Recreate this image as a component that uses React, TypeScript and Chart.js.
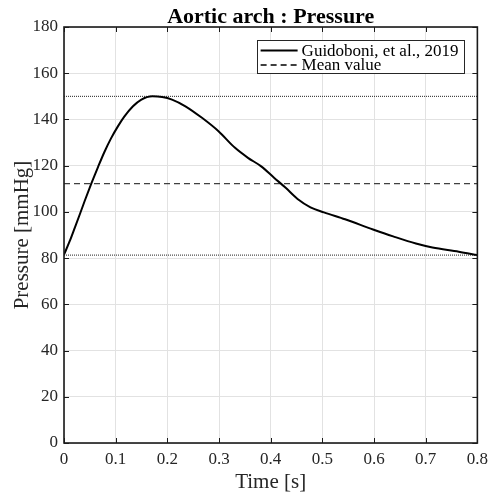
import React, { useEffect, useRef } from "react";
import { Chart, registerables } from "chart.js";

Chart.register(...registerables);

// ---- data ----
const timeS = [
  0, 0.011, 0.021, 0.031, 0.04, 0.053, 0.066, 0.078, 0.091, 0.104, 0.117, 0.133,
  0.149, 0.171, 0.19, 0.209, 0.235, 0.267, 0.299, 0.331, 0.356, 0.381, 0.407,
  0.429, 0.452, 0.477, 0.503, 0.544, 0.598, 0.637, 0.681, 0.713, 0.764, 0.8,
];
const pressure = [
  81.5, 87.3, 93.2, 99.2, 104.7, 112.3, 119.5, 125.8, 131.8, 136.9, 141.3, 145.6,
  148.5, 150, 149.7, 148.6, 145.7, 140.7, 134.9, 127.7, 123.4, 119.8, 114.7,
  110.4, 105.6, 102.0, 99.8, 96.8, 92.4, 89.4, 86.3, 84.6, 82.8, 81.3,
];
const meanValue = 112.2;
const maxValue = 150;
const minValue = 81.3;
const xRange = [0, 0.8];
const yRange = [0, 180];
const xStep = 0.1;
const yStep = 20;
const legendLabels = ["Guidoboni, et al., 2019", "Mean value"];
const titleText = "Aortic arch : Pressure";
const xTitle = "Time [s]";
const yTitle = "Pressure [mmHg]";

const FONT = "'Liberation Serif', 'Times New Roman', serif";

const decorPlugin = {
  id: "decor",
  afterDraw(chart: any) {
    const { ctx, chartArea } = chart;
    const { left, right, top, bottom } = chartArea;
    const xs = chart.scales.x;
    const ys = chart.scales.y;
    ctx.save();

    // frame
    ctx.strokeStyle = "#1a1a1a";
    ctx.lineWidth = 1.6;
    ctx.setLineDash([]);
    ctx.strokeRect(left, top, right - left, bottom - top);

    // inward ticks
    ctx.lineWidth = 1;
    const tl = 5;
    ctx.beginPath();
    xs.ticks.forEach((t: any) => {
      const px = Math.round(xs.getPixelForValue(t.value)) + 0.5;
      ctx.moveTo(px, bottom);
      ctx.lineTo(px, bottom - tl);
      ctx.moveTo(px, top);
      ctx.lineTo(px, top + tl);
    });
    ys.ticks.forEach((t: any) => {
      const py = Math.round(ys.getPixelForValue(t.value)) + 0.5;
      ctx.moveTo(left, py);
      ctx.lineTo(left + tl, py);
      ctx.moveTo(right, py);
      ctx.lineTo(right - tl, py);
    });
    ctx.stroke();

    // title
    ctx.fillStyle = "#000";
    ctx.font = `bold 22px ${FONT}`;
    ctx.textAlign = "center";
    ctx.textBaseline = "alphabetic";
    ctx.fillText(titleText, (left + right) / 2, 23);

    // axis titles
    ctx.fillStyle = "#262626";
    ctx.font = `21px ${FONT}`;
    ctx.fillText(xTitle, (left + right) / 2, 488);
    ctx.save();
    ctx.translate(28, (top + bottom) / 2);
    ctx.rotate(-Math.PI / 2);
    ctx.fillText(yTitle, 0, 0);
    ctx.restore();

    // legend
    ctx.font = `17px ${FONT}`;
    const textW = Math.max(...legendLabels.map((s) => ctx.measureText(s).width));
    const boxRight = right - 14;
    const boxW = 45 + textW + 5;
    const boxLeft = boxRight - boxW;
    const boxTop = top + 13;
    const boxH = 33;
    ctx.fillStyle = "#fff";
    ctx.fillRect(boxLeft, boxTop, boxW, boxH);
    ctx.strokeStyle = "#262626";
    ctx.lineWidth = 1;
    ctx.strokeRect(Math.round(boxLeft) + 0.5, Math.round(boxTop) + 0.5, Math.round(boxW), boxH);

    const rows = [boxTop + 10.5, boxTop + 25];
    ctx.strokeStyle = "#000";
    ctx.lineWidth = 2;
    ctx.setLineDash([]);
    ctx.beginPath();
    ctx.moveTo(boxLeft + 4, rows[0]);
    ctx.lineTo(boxLeft + 41, rows[0]);
    ctx.stroke();
    ctx.lineWidth = 1.3;
    ctx.setLineDash([6, 4]);
    ctx.beginPath();
    ctx.moveTo(boxLeft + 4, rows[1]);
    ctx.lineTo(boxLeft + 41, rows[1]);
    ctx.stroke();
    ctx.setLineDash([]);

    ctx.fillStyle = "#000";
    ctx.textAlign = "left";
    ctx.textBaseline = "alphabetic";
    ctx.fillText(legendLabels[0], boxLeft + 45, boxTop + 16);
    ctx.fillText(legendLabels[1], boxLeft + 45, boxTop + 29.5);

    ctx.restore();
  },
};

export default function App() {
  const canvasRef = useRef<HTMLCanvasElement | null>(null);

  useEffect(() => {
    document.body.style.margin = "0";
    const canvas = canvasRef.current;
    if (!canvas) return;

    const curve = timeS.map((t, i) => ({ x: t, y: pressure[i] }));
    const hline = (v: number) => [
      { x: xRange[0], y: v },
      { x: xRange[1], y: v },
    ];

    const chart = new Chart(canvas, {
      type: "line",
      data: {
        datasets: [
          {
            label: legendLabels[0],
            data: curve,
            borderColor: "#000",
            borderWidth: 2,
            pointRadius: 0,
            cubicInterpolationMode: "monotone",
            fill: false,
          },
          {
            label: legendLabels[1],
            data: hline(meanValue),
            borderColor: "#404040",
            borderWidth: 1.3,
            borderDash: [6, 4],
            pointRadius: 0,
            fill: false,
          },
          {
            label: "max",
            data: hline(maxValue),
            borderColor: "#222",
            borderWidth: 1,
            borderDash: [1, 1],
            pointRadius: 0,
            fill: false,
          },
          {
            label: "min",
            data: hline(minValue),
            borderColor: "#222",
            borderWidth: 1,
            borderDash: [1, 1],
            pointRadius: 0,
            fill: false,
          },
        ],
      },
      options: {
        animation: false,
        responsive: false,
        devicePixelRatio: 1,
        layout: { padding: { top: 27, right: 12, left: 0, bottom: 0 } },
        plugins: {
          legend: { display: false },
          title: { display: false },
          tooltip: { enabled: false },
        },
        scales: {
          x: {
            type: "linear",
            min: xRange[0],
            max: xRange[1],
            afterFit: (s: any) => {
              s.height = 52;
            },
            grid: { color: "#e2e2e2", lineWidth: 1, drawTicks: false },
            border: { display: false },
            ticks: {
              stepSize: xStep,
              padding: 6,
              color: "#262626",
              font: { family: FONT, size: 17 },
              maxRotation: 0,
              autoSkip: false,
              callback: (v: any) => String(Number(Number(v).toFixed(1))),
            },
          },
          y: {
            type: "linear",
            min: yRange[0],
            max: yRange[1],
            afterFit: (s: any) => {
              s.width = 64;
            },
            grid: { color: "#e2e2e2", lineWidth: 1, drawTicks: false },
            border: { display: false },
            ticks: {
              stepSize: yStep,
              padding: 6,
              color: "#262626",
              font: { family: FONT, size: 17 },
              autoSkip: false,
            },
          },
        },
      },
      plugins: [decorPlugin],
    } as any);

    return () => chart.destroy();
  }, []);

  return (
    <div style={{ width: 494, height: 495, background: "#fff" }}>
      <canvas ref={canvasRef} width={494} height={495} style={{ display: "block" }} />
    </div>
  );
}
